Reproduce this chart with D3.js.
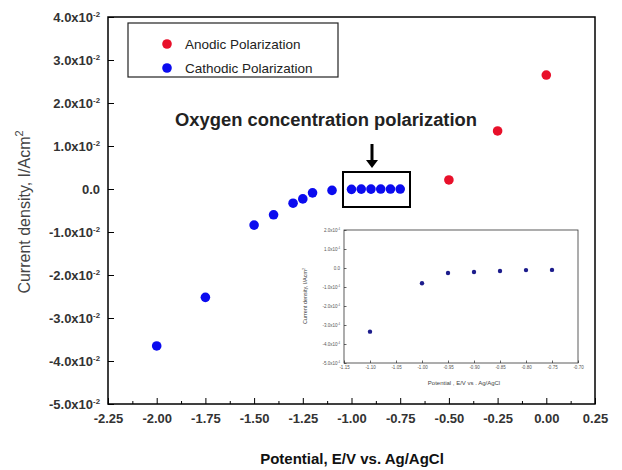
<!DOCTYPE html>
<html>
<head>
<meta charset="utf-8">
<script src="https://cdn.jsdelivr.net/npm/d3@7"></script>
<style>
  html, body { margin: 0; padding: 0; background: #fff; }
  svg { display: block; font-family: "Liberation Sans", Arial, sans-serif; }
</style>
</head>
<body>
<svg id="chart" width="622" height="470"></svg>
<script>
// anodic / cathodic polarization data (I in A/cm2)
const anodicE = [-0.50, -0.25, 0.00];
const anodicI = [0.0021, 0.0135, 0.0265];

const cathodicE = [-2.00, -1.75, -1.50, -1.40, -1.30, -1.25, -1.20, -1.10, -1.00, -0.95, -0.90, -0.85, -0.80, -0.75];
const cathodicI = [-0.0365, -0.0252, -0.0084, -0.0060, -0.0033, -0.0023, -0.0009, -0.00033, -0.00008, -0.000026, -0.000021, -0.000016, -0.000011, -0.00001];

// inset: zoom on the oxygen concentration region
const insetE = [-1.10, -1.00, -0.95, -0.90, -0.85, -0.80, -0.75];
const insetI = [-0.000335, -0.00008, -0.000026, -0.000021, -0.000016, -0.000011, -0.00001];

const xTicks = [-2.25, -2.00, -1.75, -1.50, -1.25, -1.00, -0.75, -0.50, -0.25, 0.00, 0.25];
const yTicks = [0.04, 0.03, 0.02, 0.01, 0, -0.01, -0.02, -0.03, -0.04, -0.05];
const insetXTicks = [-1.15, -1.10, -1.05, -1.00, -0.95, -0.90, -0.85, -0.80, -0.75, -0.70];
const insetYTicks = [0.0002, 0.0001, 0, -0.0001, -0.0002, -0.0003, -0.0004, -0.0005];

const legendItems = [
    { label: "Anodic Polarization", color: "#e8102a" },
    { label: "Cathodic Polarization", color: "#0b0bef" }
];

const svg = d3.select("#chart");
svg.append("rect").attr("width", 622).attr("height", 470).attr("fill", "#fff");

const x = d3.scaleLinear().domain([-2.25, 0.25]).range([108, 595]);
const y = d3.scaleLinear().domain([-0.05, 0.04]).range([404, 17]);

// writes "m.0x10^e" style labels with a superscript exponent
function sciLabel(sel, v, exp, fontSize) {
    if (v === 0) { sel.text("0.0"); return; }
    const m = (v / Math.pow(10, exp)).toFixed(1);
    sel.append("tspan").text(m + "x10");
    sel.append("tspan")
        .attr("dy", -fontSize * 0.4)
        .attr("font-size", fontSize * 0.6)
        .text(String(exp));
}

// ---- main axes
const xMinor = d3.range(-2.125, 0.25, 0.25);

svg.append("g")
    .attr("transform", "translate(0,404)")
    .call(d3.axisBottom(x).tickValues(xMinor).tickSize(-3).tickFormat(""))
    .call(g => g.select(".domain").remove());

const xAxis = svg.append("g")
    .attr("transform", "translate(0,404)")
    .call(d3.axisBottom(x).tickValues(xTicks).tickSize(-6).tickPadding(10)
            .tickFormat(d => d.toFixed(2)));
xAxis.select(".domain").remove();
xAxis.selectAll("text")
    .attr("font-size", 13).attr("font-weight", "bold").attr("fill", "#333")
    .attr("font-family", "Liberation Sans, Arial, sans-serif");

const yAxis = svg.append("g")
    .attr("transform", "translate(108,0)")
    .call(d3.axisLeft(y).tickValues(yTicks).tickSize(-6).tickPadding(8).tickFormat(""));
yAxis.select(".domain").remove();
yAxis.selectAll(".tick").each(function(d) {
    const t = d3.select(this).append("text")
        .attr("x", -8).attr("dy", "0.35em")
        .attr("text-anchor", "end")
        .attr("font-size", 13).attr("font-weight", "bold").attr("fill", "#333")
        .attr("font-family", "Liberation Sans, Arial, sans-serif");
    sciLabel(t, Math.round(d * 1000) / 1000, -2, 13);
});

// frame
svg.append("rect")
    .attr("x", 108).attr("y", 17)
    .attr("width", 595 - 108).attr("height", 404 - 17)
    .attr("fill", "none").attr("stroke", "#000").attr("stroke-width", 1.5);

// axis titles
svg.append("text")
    .attr("x", 352).attr("y", 464)
    .attr("text-anchor", "middle")
    .attr("font-size", 15).attr("font-weight", "bold").attr("fill", "#111")
    .text("Potential, E/V vs. Ag/AgCl");

const yTitle = svg.append("text")
    .attr("transform", "translate(30,212) rotate(-90)")
    .attr("text-anchor", "middle")
    .attr("font-size", 16).attr("fill", "#444");
yTitle.append("tspan").text("Current density, I/Acm");
yTitle.append("tspan").attr("dy", -7).attr("font-size", 11).text("2");

// ---- data points
svg.append("g").selectAll("circle")
    .data(cathodicE.map((e, i) => [e, cathodicI[i]]))
    .join("circle")
    .attr("cx", d => x(d[0])).attr("cy", d => y(d[1]))
    .attr("r", 4.8).attr("fill", legendItems[1].color);

svg.append("g").selectAll("circle")
    .data(anodicE.map((e, i) => [e, anodicI[i]]))
    .join("circle")
    .attr("cx", d => x(d[0])).attr("cy", d => y(d[1]))
    .attr("r", 4.8).attr("fill", legendItems[0].color);

// ---- legend
const legend = svg.append("g");
legend.append("rect")
    .attr("x", 128).attr("y", 23).attr("width", 210).attr("height", 54)
    .attr("fill", "#fff").attr("stroke", "#222").attr("stroke-width", 1.2);
legendItems.forEach((it, i) => {
    legend.append("circle")
        .attr("cx", 167).attr("cy", 44 + i * 24).attr("r", 4.8).attr("fill", it.color);
    legend.append("text")
        .attr("x", 185).attr("y", 44 + i * 24).attr("dy", "0.35em")
        .attr("font-size", 13.5).attr("fill", "#222")
        .text(it.label);
});

// ---- annotation
svg.append("text")
    .attr("x", 175).attr("y", 126)
    .attr("font-size", 17.5).attr("font-weight", "bold").attr("fill", "#222")
    .attr("textLength", 302).attr("lengthAdjust", "spacingAndGlyphs")
    .text("Oxygen concentration polarization");

svg.append("line")
    .attr("x1", 372).attr("x2", 372).attr("y1", 144).attr("y2", 161)
    .attr("stroke", "#000").attr("stroke-width", 3);
svg.append("path")
    .attr("d", "M366,160 L378,160 L372,168 Z")
    .attr("fill", "#000");

svg.append("rect")
    .attr("x", 343).attr("y", 172).attr("width", 67).attr("height", 35)
    .attr("fill", "none").attr("stroke", "#000").attr("stroke-width", 2);

// ---- inset
const ix = d3.scaleLinear().domain([-1.15, -0.70]).range([344, 578]);
const iy = d3.scaleLinear().domain([-0.0005, 0.0002]).range([363, 230]);
const inset = svg.append("g");

inset.append("g")
    .attr("transform", "translate(0,363)")
    .call(d3.axisBottom(ix).tickValues(insetXTicks).tickSize(-2.5).tickPadding(3)
            .tickFormat(d => d.toFixed(2)))
    .call(g => g.select(".domain").remove())
    .call(g => g.selectAll("text")
        .attr("font-size", 4.5).attr("fill", "#555")
        .attr("font-family", "Liberation Sans, Arial, sans-serif"))
    .call(g => g.selectAll("line").attr("stroke-width", 0.6));

inset.append("g")
    .attr("transform", "translate(344,0)")
    .call(d3.axisLeft(iy).tickValues(insetYTicks).tickSize(-2.5).tickFormat(""))
    .call(g => g.select(".domain").remove())
    .call(g => g.selectAll("line").attr("stroke-width", 0.6))
    .call(g => g.selectAll(".tick").each(function(d) {
        const t = d3.select(this).append("text")
            .attr("x", -4).attr("dy", "0.35em")
            .attr("text-anchor", "end")
            .attr("font-size", 4.5).attr("fill", "#555")
            .attr("font-family", "Liberation Sans, Arial, sans-serif");
        sciLabel(t, Math.round(d * 1e5) / 1e5, -4, 4.5);
    }));

inset.append("rect")
    .attr("x", 344).attr("y", 230).attr("width", 578 - 344).attr("height", 363 - 230)
    .attr("fill", "none").attr("stroke", "#333").attr("stroke-width", 0.8);

inset.append("g").selectAll("circle")
    .data(insetE.map((e, i) => [e, insetI[i]]))
    .join("circle")
    .attr("cx", d => ix(d[0])).attr("cy", d => iy(d[1]))
    .attr("r", 2.2).attr("fill", "#1c1c8c");

inset.append("text")
    .attr("x", 464).attr("y", 385)
    .attr("text-anchor", "middle")
    .attr("font-size", 6).attr("fill", "#444")
    .text("Potential , E/V vs . Ag/AgCl");

const iyTitle = inset.append("text")
    .attr("transform", "translate(307,296) rotate(-90)")
    .attr("text-anchor", "middle")
    .attr("font-size", 5.5).attr("fill", "#444");
iyTitle.append("tspan").text("Current density, I/Acm");
iyTitle.append("tspan").attr("dy", -2).attr("font-size", 3.5).text("2");
</script>
</body>
</html>
